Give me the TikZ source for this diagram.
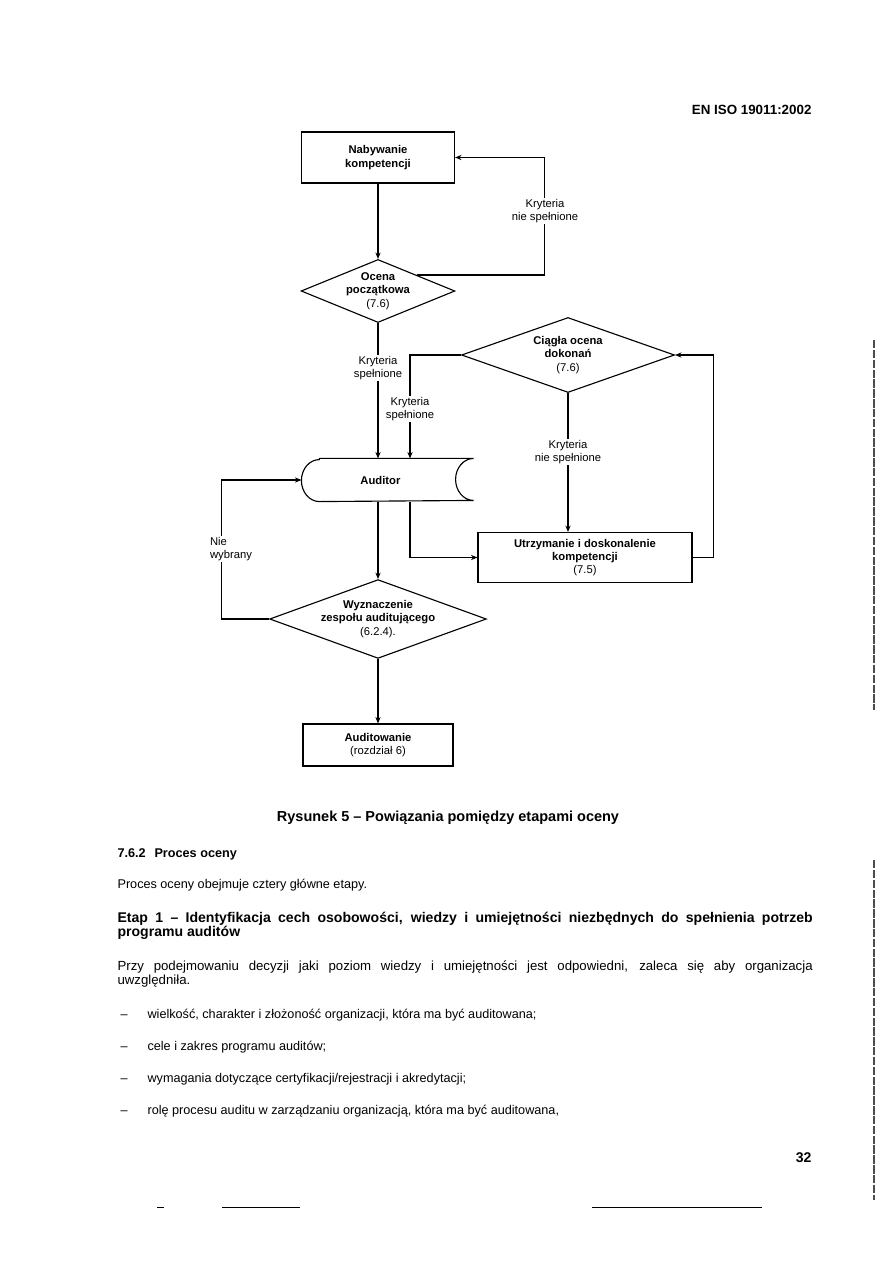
\documentclass[tikz,border=0pt]{standalone}
\usepackage{fontspec}
\setmainfont{Liberation Sans}
\usetikzlibrary{shapes.geometric,arrows.meta,calc}

\begin{document}
\begin{tikzpicture}[
  x=0.025cm, y=-0.025cm,
  line width=0.8pt,
  box/.style={draw, rectangle, inner sep=0pt, align=center, font=\fontsize{8}{9.5}\selectfont\bfseries},
  decision/.style={draw, diamond, inner sep=0pt, align=center, font=\fontsize{8}{9.5}\selectfont\bfseries},
  lbl/.style={fill=white, inner sep=1pt, align=center, font=\fontsize{8}{9}\selectfont},
  txt/.style={inner sep=0pt, font=\fontsize{9}{10}\selectfont},
  arr/.style={-{Stealth[length=1.6mm,width=1.3mm]}}
]
  \path[use as bounding box, fill=white] (0,0) rectangle (893,1262);

  % header
  \node[txt, font=\fontsize{9.5}{10}\selectfont\bfseries, anchor=base east] (norma) at (812,114) {EN ISO 19011:2002};

  % flowchart
  \node[box, minimum width=3.825cm, minimum height=1.275cm] (nabywanie) at (378,157.5) {Nabywanie\\kompetencji};
  \node[decision, aspect=2.44, minimum width=3.775cm, minimum height=1.55cm] (ocena) at (378,291) {Ocena\\początkowa\\\mdseries(7.6)};
  \node[decision, aspect=2.84, minimum width=5.325cm, minimum height=1.875cm] (ciagla) at (568,355) {Ciągła ocena\\dokonań\\\mdseries(7.6)};
  \node[inner sep=0pt, font=\fontsize{8}{9.5}\selectfont\bfseries, minimum width=4.275cm, minimum height=1.05cm] (auditor) at (387.5,480) {Auditor\kern10pt};
  \node[box, minimum width=5.35cm, minimum height=1.25cm] (utrzymanie) at (585,557.5) {Utrzymanie i doskonalenie\\kompetencji\\\mdseries(7.5)};
  \node[decision, aspect=2.75, minimum width=5.125cm, minimum height=1.9cm] (wyznaczenie) at (378,619) {Wyznaczenie\\zespołu auditującego\\\mdseries(6.2.4).};
  \node[box, minimum width=3.75cm, minimum height=1.05cm] (auditowanie) at (378,745) {Auditowanie\\\mdseries(rozdział 6)};

  % auditor outline
  \draw ($(auditor.north west)+(18,0)$) -- (auditor.north east)
    arc[start angle=270, end angle=90, x radius=18, y radius=21]
    -- ($(auditor.south west)+(18,0)$)
    arc[start angle=90, end angle=270, x radius=18, y radius=21] -- cycle;

  % connectors
  \coordinate (ocenaNE) at ($(ocena.north)!0.5!(ocena.east)$);
  \draw[arr] (nabywanie.south) -- (ocena.north);
  \draw[arr] (ocenaNE) -- ++(128,0) |- (nabywanie.east);
  \draw[arr] (ocena.south) -- (ocena.south |- auditor.north);
  \draw[arr] (ciagla.west) -| ($(auditor.north)+(22.5,0)$);
  \draw[arr] (ciagla.south) -- (ciagla.south |- utrzymanie.north);
  \draw[arr] (utrzymanie.east) -- ++(21,0) |- (ciagla.east);
  \draw[arr] (wyznaczenie.north |- auditor.south) -- (wyznaczenie.north);
  \draw[arr] ($(auditor.south)+(22.5,0)$) |- (utrzymanie.west);
  \draw[arr] (wyznaczenie.west) -- ++(-48,0) |- (auditor.west);
  \draw[arr] (wyznaczenie.south) -- (auditowanie.north);

  % labels
  \node[lbl] (kryteria1) at (545,211) {Kryteria\\nie spełnione};
  \node[lbl] (kryteria2) at (378,368) {Kryteria\\spełnione};
  \node[lbl] (kryteria3) at (410,409) {Kryteria\\spełnione};
  \node[lbl] (kryteria4) at (568,452) {Kryteria\\nie spełnione};
  \node[lbl, align=left] (niewybrany) at (231,549) {Nie\\wybrany};

  % caption and text
  \node[txt, font=\fontsize{10.3}{12}\selectfont\bfseries, anchor=base] (podpis) at (448,821) {Rysunek 5 – Powiązania pomiędzy etapami oceny};
  \node[txt, font=\fontsize{9}{10}\selectfont\bfseries, anchor=base west] (rozdzial) at (117,857) {7.6.2\hspace{0.7em}Proces oceny};
  \node[txt, anchor=base west] (wstep) at (117,888) {Proces oceny obejmuje cztery główne etapy.};
  \node[txt, font=\fontsize{10}{10}\selectfont\bfseries, text width=17.375cm, align=justify, anchor=base west] (etap) at (117,922)
    {Etap 1 – Identyfikacja cech osobowości, wiedzy i umiejętności niezbędnych do spełnienia potrzeb\linebreak programu auditów};
  \node[txt, font=\fontsize{9.4}{10}\selectfont, text width=17.375cm, align=justify, anchor=base west] (przy) at (117,970)
    {Przy podejmowaniu decyzji jaki poziom wiedzy i umiejętności jest odpowiedni, zaleca się aby organizacja\linebreak uwzględniła.};
  \node[txt, anchor=base west] (punkt1) at (120,1018) {\makebox[19.2pt][l]{–}wielkość, charakter i złożoność organizacji, która ma być auditowana;};
  \node[txt, anchor=base west] (punkt2) at (120,1050) {\makebox[19.2pt][l]{–}cele i zakres programu auditów;};
  \node[txt, anchor=base west] (punkt3) at (120,1082) {\makebox[19.2pt][l]{–}wymagania dotyczące certyfikacji/rejestracji i akredytacji;};
  \node[txt, anchor=base west] (punkt4) at (120,1114) {\makebox[19.2pt][l]{–}rolę procesu auditu w zarządzaniu organizacją, która ma być auditowana,};
  \node[txt, font=\fontsize{10}{12}\selectfont\bfseries, anchor=base east] (strona) at (812,1162) {32};

  % page edge marks
  \draw[line width=0.6pt] (157,1207) -- (164,1207);
  \draw[line width=0.6pt] (222,1207) -- (300,1207);
  \draw[line width=0.6pt] (592,1207) -- (762,1207);
  \draw[line width=1.2pt, gray!60!black, dash pattern=on 6pt off 1pt] (874,340) -- (874,710);
  \draw[line width=1.2pt, gray!60!black, dash pattern=on 6pt off 1pt] (874,860) -- (874,1200);
\end{tikzpicture}
\end{document}
